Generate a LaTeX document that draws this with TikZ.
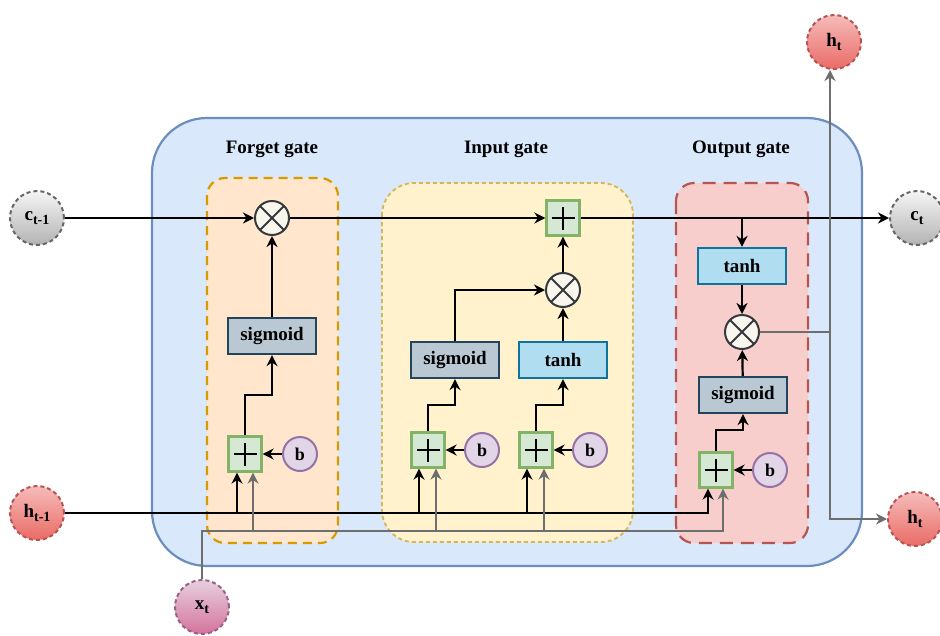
\documentclass[tikz,border=0pt]{standalone}
\usepackage{fontspec}
\setmainfont{Liberation Serif}
\usetikzlibrary{arrows.meta,calc}
\definecolor{cellF}{HTML}{DAE8FC}
\definecolor{cellD}{HTML}{6C8EBF}
\definecolor{fgF}{HTML}{FFE6CC}
\definecolor{fgD}{HTML}{D79B00}
\definecolor{igF}{HTML}{FFF2CC}
\definecolor{igD}{HTML}{D6B656}
\definecolor{ogF}{HTML}{F8CECC}
\definecolor{ogD}{HTML}{B85450}
\definecolor{sgF}{HTML}{BAC8D3}
\definecolor{sgD}{HTML}{23445D}
\definecolor{thF}{HTML}{B1DDF0}
\definecolor{thD}{HTML}{10739E}
\definecolor{plF}{HTML}{D5E8D4}
\definecolor{plD}{HTML}{82B366}
\definecolor{bF}{HTML}{E1D5E7}
\definecolor{bD}{HTML}{9673A6}
\definecolor{mulF}{HTML}{F9F7ED}
\definecolor{mulD}{HTML}{36393D}
\definecolor{grayln}{HTML}{6E6E6E}
\definecolor{redT}{HTML}{F5BCBA}
\definecolor{redB}{HTML}{EA6B66}
\definecolor{grT}{HTML}{F5F5F5}
\definecolor{grB}{HTML}{B3B3B3}
\definecolor{grD}{HTML}{666666}
\definecolor{pkT}{HTML}{E6D0DE}
\definecolor{pkB}{HTML}{D5739D}
\definecolor{pkD}{HTML}{996185}
\begin{document}
\begin{tikzpicture}[x=1pt,y=-1pt,
  txt/.style={font=\fontsize{19}{22}\selectfont\bfseries},
  fun/.style={draw, line width=2.2pt, minimum width=88pt, minimum height=36pt, inner sep=0pt, txt},
  sig/.style={fun, fill=sgF, draw=sgD},
  tnh/.style={fun, fill=thF, draw=thD},
  plusbox/.style={draw=plD, fill=plF, line width=2.2pt, minimum width=33pt, minimum height=35pt, inner sep=0pt,
     path picture={\draw[line width=2pt,black]
       ([xshift=-11.5pt]path picture bounding box.center) -- ([xshift=11.5pt]path picture bounding box.center)
       ([yshift=-11.5pt]path picture bounding box.center) -- ([yshift=11.5pt]path picture bounding box.center);}},
  mul/.style={circle, draw=mulD, fill=mulF, line width=2pt, minimum size=34pt, inner sep=0pt,
     path picture={\draw[line width=2pt,mulD]
       (path picture bounding box.north west) -- (path picture bounding box.south east)
       (path picture bounding box.north east) -- (path picture bounding box.south west);}},
  bias/.style={circle, draw=bD, fill=bF, line width=2pt, minimum size=34pt, inner sep=0pt,
     font=\fontsize{18}{20}\selectfont\bfseries},
  io/.style={circle, minimum size=54pt, inner sep=0pt, line width=2pt, dash pattern=on 4pt off 3pt, txt},
  iogray/.style={io, draw=grD, top color=grT, bottom color=grB},
  iored/.style={io, draw=ogD, top color=redT, bottom color=redB},
  iopink/.style={io, draw=pkD, top color=pkT, bottom color=pkB},
  arr/.style={line width=2.2pt, -{Stealth[length=11pt,width=11pt,inset=3.5pt]}},
  ln/.style={line width=2.2pt},
  garr/.style={arr, draw=grayln},
  gln/.style={ln, draw=grayln},
]
\useasboundingbox (0,0) rectangle (940,635);
% cell
\draw[fill=cellF, draw=cellD, line width=2.2pt, rounded corners=55pt] (152,118) rectangle (862,566);
% gate boxes
\draw[fill=fgF, draw=fgD, line width=2.2pt, dash pattern=on 9pt off 6pt, rounded corners=18pt] (207,178) rectangle (338,543);
\draw[fill=igF, draw=igD, line width=1.8pt, dash pattern=on 4pt off 3pt, rounded corners=32pt] (382,183) rectangle (633,542);
\draw[fill=ogF, draw=ogD, line width=2.2pt, dash pattern=on 13pt off 8pt, rounded corners=18pt] (676,183) rectangle (808,543);
% labels
\node[txt] (lf) at (272,149) {Forget gate};
\node[txt] (li) at (506,149) {Input gate};
\node[txt] (lo) at (741,149) {Output gate};
% io nodes
\node[iogray] (cm) at (37,218) {c\raisebox{-4pt}{\fontsize{14}{14}\selectfont t-1}};
\node[iored] (hm) at (37,513) {h\raisebox{-4pt}{\fontsize{14}{14}\selectfont t-1}};
\node[iopink] (xt) at (202,607) {x\raisebox{-4pt}{\fontsize{14}{14}\selectfont t}};
\node[iored] (ht1) at (834,42) {h\raisebox{-4pt}{\fontsize{14}{14}\selectfont t}};
\node[iogray] (ct) at (917,218) {c\raisebox{-4pt}{\fontsize{14}{14}\selectfont t}};
\node[iored] (ht2) at (915,519) {h\raisebox{-4pt}{\fontsize{14}{14}\selectfont t}};
% forget gate
\node[mul] (fx) at (272,218) {};
\node[sig] (fs) at (272,336) {sigmoid};
\node[plusbox] (fp) at (245,454) {};
\node[bias] (fb) at (300,454) {b};
% input gate
\node[plusbox] (ip) at (563,218) {};
\node[mul] (ix) at (563,290) {};
\node[sig] (is) at (455,360) {sigmoid};
\node[tnh] (it) at (563,360) {tanh};
\node[plusbox] (ip1) at (428,450) {};
\node[bias] (ib1) at (482,450) {b};
\node[plusbox] (ip2) at (536,450) {};
\node[bias] (ib2) at (590,450) {b};
% output gate
\node[tnh] (ot) at (742,266) {tanh};
\node[mul] (ox) at (742,332) {};
\node[sig] (os) at (743,395) {sigmoid};
\node[plusbox] (op) at (716,470) {};
\node[bias] (ob) at (770,470) {b};
% helper coordinates
\coordinate (fk) at (0,395);
\coordinate (ik) at (0,405);
\coordinate (ok) at (0,430);
\coordinate (xrow) at (0,531);
\coordinate (oj) at (830,332);
\coordinate (fpH) at ($(fp.south)+(-8,0)$);
\coordinate (fpX) at ($(fp.south)+(8,0)$);
\coordinate (ip1H) at ($(ip1.south)+(-9,0)$);
\coordinate (ip1X) at ($(ip1.south)+(8,0)$);
\coordinate (ip2H) at ($(ip2.south)+(-9,0)$);
\coordinate (ip2X) at ($(ip2.south)+(8,0)$);
\coordinate (opH) at ($(op.south)+(-8,0)$);
\coordinate (opX) at ($(op.south)+(7,0)$);
% cell state line
\draw[arr] (cm) -- (fx);
\draw[arr] (fx) -- (ip);
\draw[arr] (ip) -- (ct);
\draw[arr] (ot.north |- ip.east) -- (ot);
% forget gate flow
\draw[arr] (fp.north) |- (fk -| fs.south) -- (fs.south);
\draw[arr] (fs) -- (fx);
\draw[arr] (fb) -- (fp);
% input gate flow
\draw[arr] (ip1.north) |- (ik -| is.south) -- (is.south);
\draw[arr] (ip2.north) |- (ik -| it.south) -- (it.south);
\draw[arr] (is.north) |- (ix.west);
\draw[arr] (it) -- (ix);
\draw[arr] (ix) -- (ip);
\draw[arr] (ib1) -- (ip1);
\draw[arr] (ib2) -- (ip2);
% output gate flow
\draw[arr] (op.north) |- (ok -| os.south) -- (os.south);
\draw[arr] (os) -- (ox);
\draw[arr] (ot) -- (ox);
\draw[arr] (ob) -- (op);
% h_{t-1} bus
\draw[arr] (hm.east) -| (opH);
\draw[arr] (fpH |- hm.east) -- (fpH);
\draw[arr] (ip1H |- hm.east) -- (ip1H);
\draw[arr] (ip2H |- hm.east) -- (ip2H);
% x_t bus
\draw[garr] (xt.north) |- (xrow -| opX) -- (opX);
\draw[garr] (fpX |- xrow) -- (fpX);
\draw[garr] (ip1X |- xrow) -- (ip1X);
\draw[garr] (ip2X |- xrow) -- (ip2X);
% output h_t
\draw[gln] (ox.east) -- (oj);
\draw[garr] (oj) -- (oj |- ht1.south);
\draw[garr] (oj) |- (ht2.west);
\end{tikzpicture}
\end{document}
